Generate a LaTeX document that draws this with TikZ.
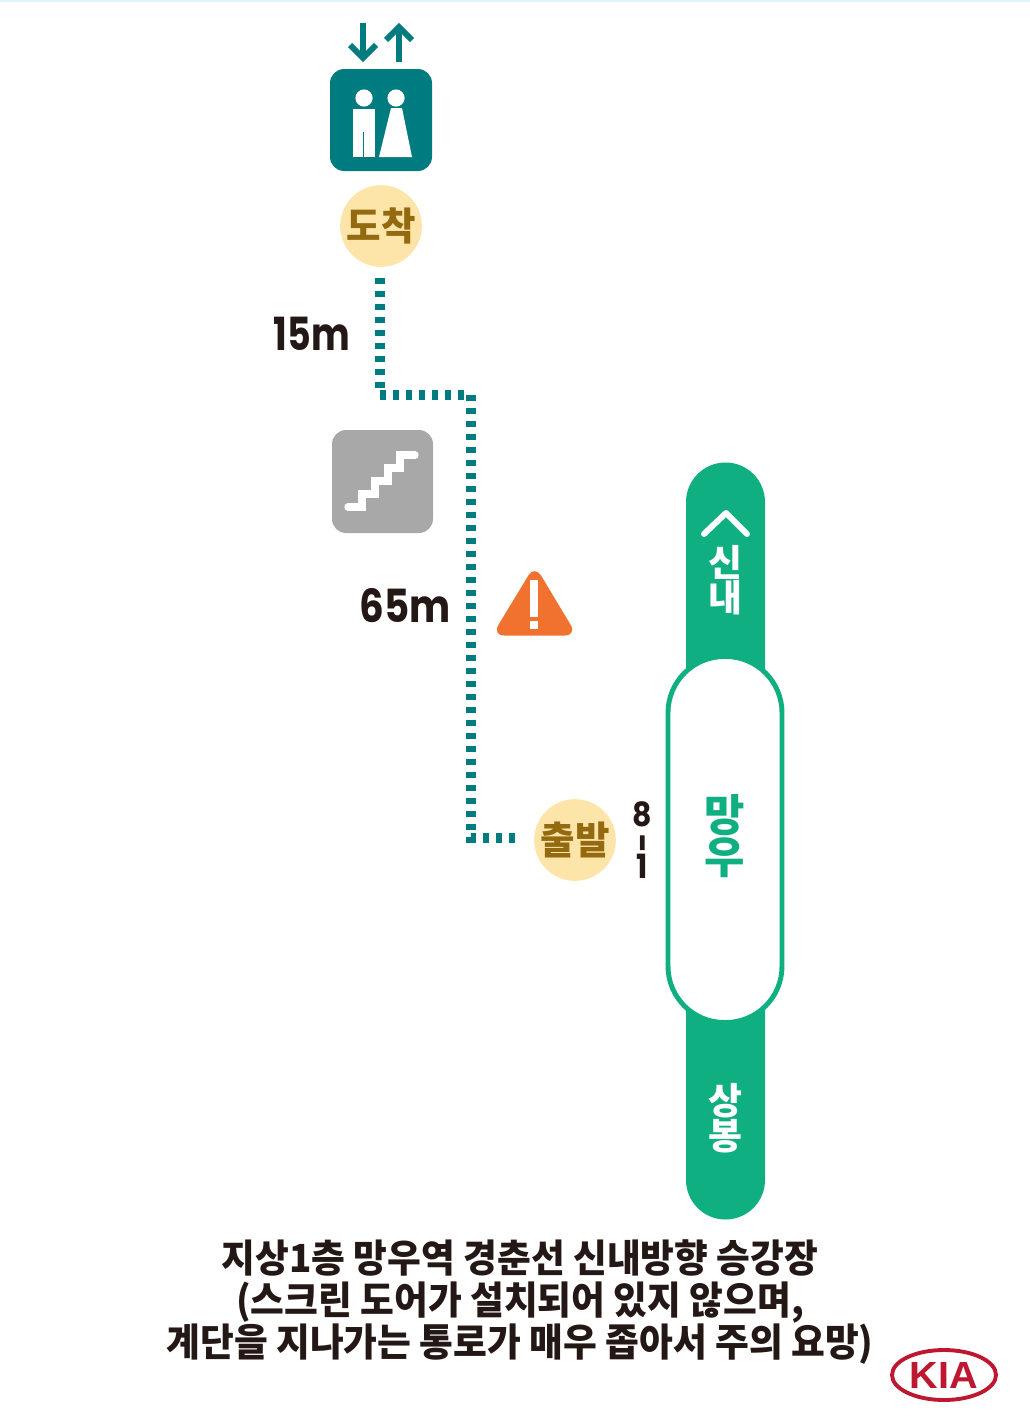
\documentclass[tikz,border=0pt]{standalone}
\usepackage{fontspec}
\setmainfont{Noto Sans CJK KR}
\newfontfamily\latinfont{Poppins}
\newfontfamily\logofont{Liberation Sans}
\definecolor{liftteal}{HTML}{007B80}
\definecolor{linegreen}{HTML}{0FAF82}
\definecolor{badgefill}{HTML}{FDE4A9}
\definecolor{badgetext}{HTML}{946A10}
\definecolor{warnorange}{HTML}{F1712E}
\definecolor{stairgray}{HTML}{A9A8A9}
\definecolor{inkdark}{HTML}{231815}
\definecolor{kiared}{HTML}{BE1730}
\newcommand{\narrow}[2]{\scalebox{#1}[1]{#2}}
\begin{document}
\begin{tikzpicture}[
    x=0.02cm, y=-0.02cm,
    badge/.style={circle, fill=badgefill, text=badgetext, minimum size=46.5pt, inner sep=0pt,
        font=\fontsize{22}{24}\selectfont\bfseries},
    walkline/.style={liftteal, line width=6.2pt, dash pattern=on 3.6pt off 3.8pt},
    runlabel/.style={text=inkdark, inner sep=0pt, font=\fontsize{26}{28}\latinfont\bfseries},
    linelabel/.style={text=white, align=center, inner sep=0pt,
        font=\fontsize{21}{21}\selectfont\bfseries},
    iconarrow/.style={liftteal, line width=3.4pt}
]
    \useasboundingbox (0,0) rectangle (1030,1420);
    \fill[cyan!12] (0,0) rectangle (1030,1.5);

    % Lift sign with arrows
    \draw[iconarrow] (363,23) -- (363,58);
    \draw[iconarrow] (350,45) -- (363,58) -- (376,45);
    \draw[iconarrow] (399,62) -- (399,27);
    \draw[iconarrow] (386,40) -- (399,27) -- (412,40);
    \fill[liftteal, rounded corners=8pt] (330,69) rectangle (432,171);
    \fill[white] (364,98) circle (8.6);
    \fill[white] (396,98) circle (8.6);
    \fill[white] (353,109) rectangle (375,157);
    \draw[liftteal, line width=0.8pt] (363.5,132) -- (363.5,157);
    \fill[white] (391,108) -- (402,108) -- (412,157) -- (379,157) -- cycle;

    % Arrival and departure badges
    \node[badge] (arrival) at (381,226) {\narrow{0.97}{도착}};
    \node[badge] (departure) at (575,840) {\narrow{0.97}{출발}};

    % Walking route
    \coordinate (walktop) at (380,278);
    \coordinate (walkbend) at (380,395);
    \coordinate (walkcorner) at (471,395);
    \coordinate (walklow) at (471,838);
    \coordinate (walkend) at (516,838);
    \draw[walkline] (walktop) -- (walkbend) -- (walkcorner) -- (walklow) -- (walkend);

    % Distances
    \node[runlabel] (shortrun) at (312,334) {\narrow{0.8}{15m}};
    \node[runlabel] (longrun) at (405,606) {\narrow{0.85}{65m}};

    % Stairs sign
    \fill[stairgray, rounded corners=8pt] (332,430) rectangle (433,533);
    \draw[white, line width=4.2pt, line cap=round] (348,507) -- (362,507) -- (362,494) -- (375,494)
        -- (375,481) -- (388,481) -- (388,468) -- (400,468) -- (400,455) -- (415,455);

    % Warning sign
    \fill[warnorange, rounded corners=7pt] (534.7,565) -- (492,635.5) -- (577,635.5) -- cycle;
    \fill[white] (530,580) rectangle (538,617);
    \fill[white] (530,621) rectangle (538,629);

    % Train line and station
    \fill[linegreen] (686,1180) -- (686,502) arc[start angle=180, end angle=360, radius=39.5]
        -- (765,1180) arc[start angle=0, end angle=180, radius=39.5] -- cycle;
    \draw[linegreen, fill=white, line width=2.8pt, rounded corners=32pt] (668,656.5) rectangle (782,1022.5);
    \draw[white, line width=3.4pt, line cap=round, line join=round] (704,534) -- (726,513) -- (747,534);
    \node[linelabel] (towardnorth) at (725,580) {신\\[-1pt]내};
    \node[linelabel] (towardsouth) at (725,1118) {상\\[-1pt]봉};
    \node[linelabel, text=linegreen, font=\fontsize{25}{25}\selectfont\bfseries] (station) at (725,836) {망\\[-1pt]우};
    \node[text=inkdark, align=center, inner sep=0pt, font=\fontsize{19}{16}\latinfont\bfseries] (platform) at (642,840)
        {\narrow{0.9}{8}\\[-1pt]\hspace{6pt}\rotatebox{90}{\narrow{0.8}{–}}\\[-1pt]\narrow{0.9}{1}};

    % Caption
    \node[text=inkdark, align=center, inner sep=0pt, font=\fontsize{22}{24}\selectfont\bfseries] (caption) at (520,1302)
        {\narrow{0.95}{지상1층 망우역 경춘선 신내방향 승강장}\\
         \narrow{0.95}{(스크린 도어가 설치되어 있지 않으며,}\\
         \narrow{0.95}{계단을 지나가는 통로가 매우 좁아서 주의 요망)}};

    % Logo
    \draw[kiared, fill=white, line width=2.2pt] (944,1375) ellipse (52 and 25);
    \node[text=kiared, inner sep=0pt, font=\fontsize{21.5}{22}\logofont\bfseries] (logo) at (944,1375) {\narrow{1.05}{KIA}};
\end{tikzpicture}
\end{document}
